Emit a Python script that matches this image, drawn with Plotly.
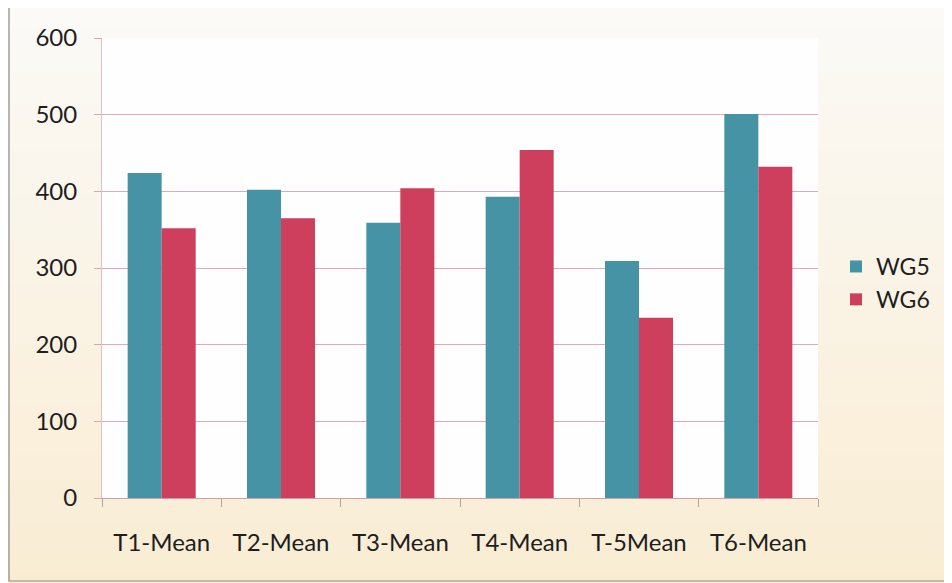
import plotly.graph_objects as go

categories = ["T1-Mean", "T2-Mean", "T3-Mean", "T4-Mean", "T-5Mean", "T6-Mean"]
wg5 = [424, 402, 359, 393, 309, 501]
wg6 = [352, 365, 404, 454, 235, 432]
y_ticks = [0, 100, 200, 300, 400, 500, 600]

FONT = "Lato, 'Open Sans', sans-serif"

# page body has an 8px margin, so layout is expressed in shifted coordinates
L, R, T, B = 94, 810, 30, 490  # plot area edges in figure pixels
W, H = 952, 583
pw, ph = R - L, B - T

fig = go.Figure()
fig.add_trace(go.Bar(name="WG5", x=categories, y=wg5, marker_color="#4793a6", marker_line_width=0))
fig.add_trace(go.Bar(name="WG6", x=categories, y=wg6, marker_color="#cd3f5c", marker_line_width=0))

def px_x(x):
    return (x - L) / pw

def px_y(y):
    return (B - y) / ph

shapes = []
n = 40
top = (251, 250, 247)
bot = (249, 236, 210)
for i in range(n):
    y0 = -10 + i * (H + 20) / n
    y1 = -10 + (i + 1) * (H + 20) / n + 1
    t = i / (n - 1)
    c = tuple(int(round(top[k] + (bot[k] - top[k]) * t)) for k in range(3))
    shapes.append(dict(type="rect", xref="paper", yref="paper", layer="below",
                       x0=px_x(-10), x1=px_x(W + 10), y0=px_y(y1), y1=px_y(y0),
                       fillcolor="rgb(%d,%d,%d)" % c, line_width=0))
shapes.append(dict(type="rect", xref="paper", yref="paper", layer="below",
                   x0=0, x1=1, y0=0, y1=1, fillcolor="#fefefe", line_width=0))
shapes.append(dict(type="rect", xref="paper", yref="paper", layer="above",
                   x0=px_x(1), x1=px_x(942), y0=px_y(573), y1=px_y(-1),
                   line=dict(color="#8a8a8a", width=1.2), fillcolor="rgba(0,0,0,0)"))

fig.update_layout(
    width=W, height=H,
    margin=dict(l=L, r=W - R, t=T, b=H - B, autoexpand=False),
    paper_bgcolor="#fbf6ec",
    plot_bgcolor="rgba(0,0,0,0)",
    barmode="group",
    bargap=0.43,
    bargroupgap=0,
    font=dict(family=FONT, size=24, color="#1e1e1e"),
    shapes=shapes,
    showlegend=True,
    legend=dict(x=px_x(828), y=px_y(275), xanchor="left", yanchor="middle",
                bgcolor="rgba(0,0,0,0)", font=dict(size=23, color="#1e1e1e"),
                itemwidth=30),
)
fig.update_xaxes(
    showgrid=False, showline=True, linecolor="#c9a0a8", linewidth=1,
    ticks="outside", tickson="boundaries", ticklen=8, tickcolor="#b9a0a0",
    ticklabelstandoff=23, fixedrange=True, automargin=False,
)
fig.update_yaxes(
    range=[0, 600], tickvals=y_ticks, showgrid=True, gridcolor="#e3a7b5", gridwidth=1,
    showline=True, linecolor="#e0c0c8", linewidth=1,
    ticks="outside", ticklen=7, tickcolor="#d6a8b2",
    ticklabelstandoff=12, zeroline=False, fixedrange=True, automargin=False,
)

fig.write_html("out.html")
